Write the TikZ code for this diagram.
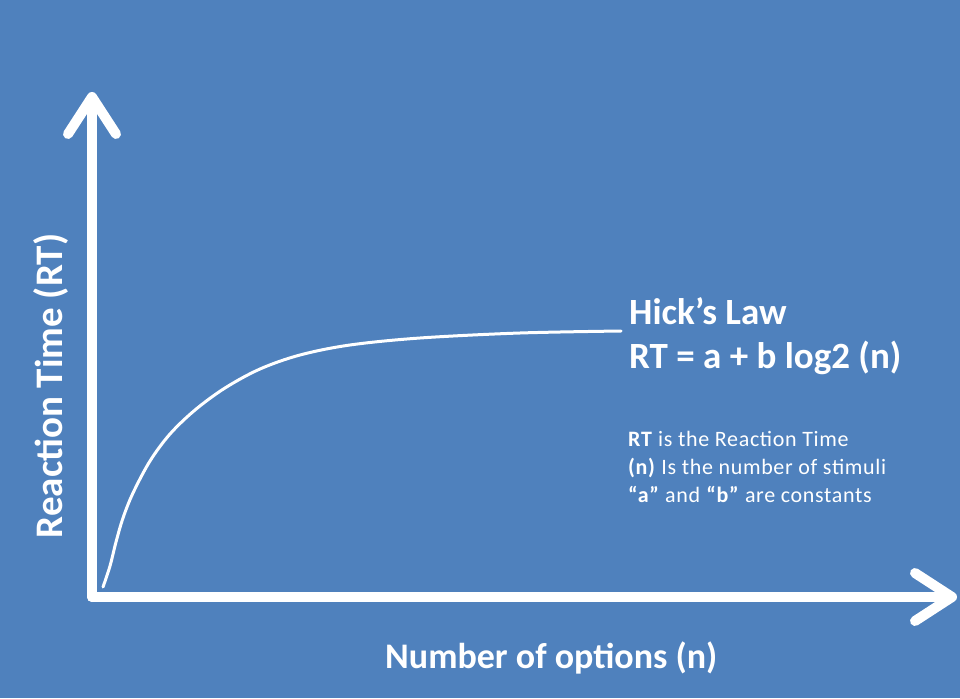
\documentclass[tikz,border=0pt]{standalone}
\usepackage{fontspec}
\setmainfont{Carlito}
\usetikzlibrary{arrows.meta}

\definecolor{slideblue}{RGB}{79,129,189}

\begin{document}
\begin{tikzpicture}[x=1pt, y=-1pt,
    axis/.style={white, line width=10pt, line cap=round, line join=round,
        -{Straight Barb[length=37pt, width=48pt, round]}},
    curve/.style={white, line width=3pt, line cap=round},
    label/.style={white, inner sep=0pt, anchor=base west}]

    \fill[slideblue] (0, 0) rectangle (960, 698);
    \useasboundingbox (0, 0) rectangle (960, 698);

    \coordinate (origin) at (92, 597);
    \coordinate (ytip) at (92, 92);
    \coordinate (xtip) at (957, 597);

    \draw[axis] (origin) -- (ytip);
    \draw[axis] (origin) -- (xtip);

    \draw[curve] plot[smooth, tension=0.55] coordinates {(103,587) (110,566) (116,542) (123,518) (133,493) (150,461) (170,434) (195,410) (225,388) (260,369) (300,355) (350,345) (420,338) (520,333) (621,331)};

    \node[label, font=\bfseries\fontsize{37}{40}\selectfont] (law) at (629, 324) {Hick’s Law};
    \node[label, font=\bfseries\fontsize{37}{40}\selectfont] (formula) at (629, 368) {RT = a + b log2 (n)};

    \node[label, font=\fontsize{22}{24}\selectfont\addfontfeature{LetterSpace=3}] (rt) at (628, 446) {\textbf{RT} is the Reaction Time};
    \node[label, font=\fontsize{22}{24}\selectfont\addfontfeature{LetterSpace=3}] (n) at (628, 474) {\textbf{(n)} Is the number of stimuli};
    \node[label, font=\fontsize{22}{24}\selectfont\addfontfeature{LetterSpace=3}] (ab) at (628, 502) {\textbf{“a”} and \textbf{“b”} are constants};

    \node[label, font=\bfseries\fontsize{36}{40}\selectfont] (xlabel) at (385, 668) {Number of options (n)};
    \node[white, inner sep=0pt, anchor=base, rotate=90, font=\bfseries\fontsize{39}{40}\selectfont] (ylabel) at (62, 386) {Reaction Time (RT)};

\end{tikzpicture}
\end{document}
